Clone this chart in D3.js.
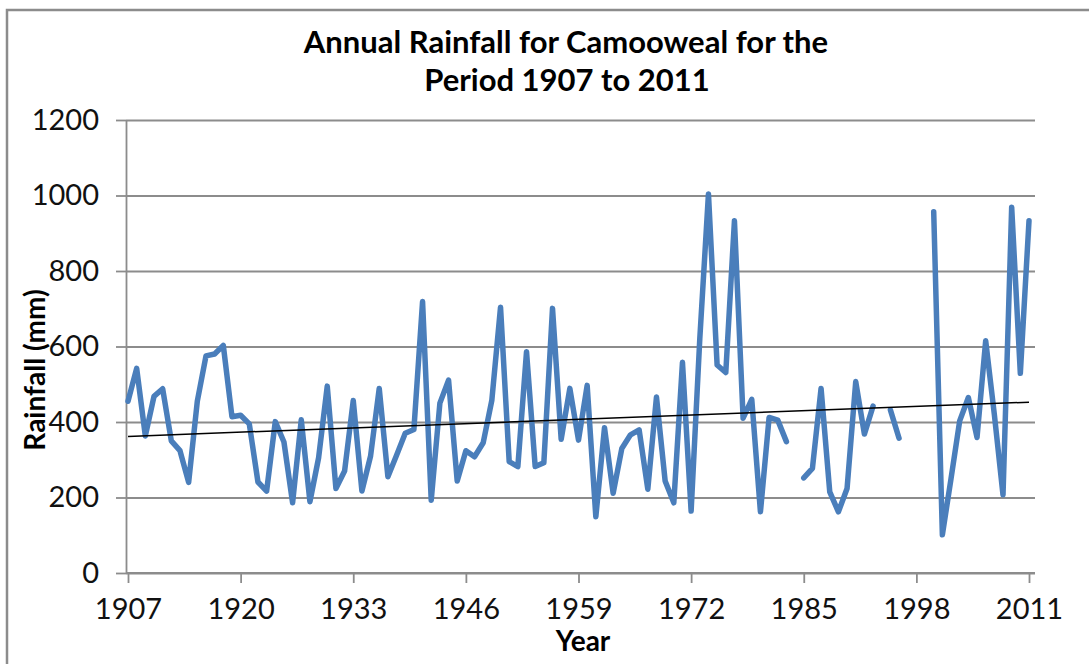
<!DOCTYPE html>
<html lang="en">
<head>
    <meta charset="UTF-8">
    <title>Annual Rainfall for Camooweal</title>
    <script src="https://d3js.org/d3.v7.min.js"></script>
    <style>
        body { margin: 0; background: #fff; }
        text { font-family: Lato, "Open Sans", sans-serif; fill: #000; }
        .axis path, .axis line { stroke: #8c8c8c; stroke-width: 1.8; }
        .axis text { font-size: 29px; fill: #111; }
        .grid line { stroke: #8c8c8c; stroke-width: 1.8; }
        .grid path { display: none; }
    </style>
</head>
<body>
    <svg width="1089" height="664" id="chart"></svg>

    <script>
        // annual totals in mm, null where no record was kept
        const years = d3.range(1907, 2012);
        const rainfall = [
            455, 542, 363, 468, 488, 350, 324, 240, 455, 575,   // 1907-1916
            580, 603, 414, 418, 395, 241, 217, 401, 347, 186,   // 1917-1926
            406, 189, 305, 495, 224, 270, 457, 217, 310, 489,   // 1927-1936
            255, 312, 370, 380, 719, 193, 450, 511, 244, 324,   // 1937-1946
            308, 345, 458, 704, 295, 282, 586, 282, 292, 701,   // 1947-1956
            354, 489, 352, 497, 149, 385, 211, 330, 366, 379,   // 1957-1966
            222, 466, 244, 186, 558, 164, 620, 1004, 551, 531,  // 1967-1976
            933, 410, 460, 162, 412, 405, 348, null, 252, 277,  // 1977-1986
            489, 215, 162, 224, 507, 368, 442, null, 432, 357,  // 1987-1996
            null, null, null, 957, 101, 250, 403, 465, 359, 615, // 1997-2006
            420, 207, 969, 529, 933                              // 2007-2011
        ];
        const xTicks = [1907, 1920, 1933, 1946, 1959, 1972, 1985, 1998, 2011];
        const yTicks = [0, 200, 400, 600, 800, 1000, 1200];

        const data = years.map((yr, i) => ({ year: yr, value: rainfall[i] }));

        const plot = { left: 126, right: 1035, top: 120, bottom: 573 };

        const svg = d3.select("#chart");

        //outer chart frame (right and bottom edges fall outside the view)
        svg.append("rect")
            .attr("x", 7)
            .attr("y", 10)
            .attr("width", 1200)
            .attr("height", 800)
            .attr("fill", "none")
            .attr("stroke", "#8c8c8c")
            .attr("stroke-width", 2.5);

        const x = d3.scaleLinear()
            .domain([1907, 2011])
            .range([128, 1029]);

        const y = d3.scaleLinear()
            .domain([0, 1200])
            .range([plot.bottom, plot.top]);

        //horizontal gridlines
        svg.append("g")
            .attr("class", "grid")
            .attr("transform", `translate(${plot.left},0)`)
            .call(d3.axisLeft(y).tickValues(yTicks).tickSize(-(plot.right - plot.left)).tickFormat(""));

        //y axis
        svg.append("g")
            .attr("class", "axis")
            .attr("transform", `translate(${plot.left},0)`)
            .call(d3.axisLeft(y).tickValues(yTicks).tickSize(10).tickSizeOuter(0).tickPadding(17).tickFormat(d3.format("d")));

        //x axis
        const xAxis = svg.append("g")
            .attr("class", "axis")
            .attr("transform", `translate(0,${plot.bottom})`)
            .call(d3.axisBottom(x).tickValues(xTicks).tickSize(10).tickSizeOuter(0).tickPadding(15).tickFormat(d3.format("d")));
        xAxis.select(".domain").attr("d", `M${plot.left},0H${plot.right}`);

        //rainfall series
        const line = d3.line()
            .defined(d => d.value !== null)
            .x(d => x(d.year))
            .y(d => y(d.value));

        svg.append("path")
            .datum(data)
            .attr("fill", "none")
            .attr("stroke", "#4a7ebb")
            .attr("stroke-width", 5.5)
            .attr("stroke-linejoin", "round")
            .attr("stroke-linecap", "round")
            .attr("d", line);

        //linear trendline (least squares over recorded years)
        const known = data.filter(d => d.value !== null);
        const mx = d3.mean(known, d => d.year);
        const my = d3.mean(known, d => d.value);
        const slope = d3.sum(known, d => (d.year - mx) * (d.value - my)) /
                      d3.sum(known, d => (d.year - mx) * (d.year - mx));
        const trend = [1907, 2011].map(yr => ({ year: yr, value: my + slope * (yr - mx) }));

        svg.append("path")
            .datum(trend)
            .attr("fill", "none")
            .attr("stroke", "#000")
            .attr("stroke-width", 1.5)
            .attr("d", d3.line().x(d => x(d.year)).y(d => y(d.value)));

        //titles
        const title = svg.append("text")
            .attr("text-anchor", "middle")
            .style("font-size", "31px")
            .style("font-weight", "bold");
        title.append("tspan").attr("x", 566).attr("y", 53).text("Annual Rainfall for Camooweal for the");
        title.append("tspan").attr("x", 567).attr("y", 91).text("Period 1907 to 2011");

        svg.append("text")
            .attr("x", 583)
            .attr("y", 651)
            .attr("text-anchor", "middle")
            .style("font-size", "28px")
            .style("font-weight", "bold")
            .text("Year");

        svg.append("text")
            .attr("transform", "rotate(-90)")
            .attr("x", -370)
            .attr("y", 45)
            .attr("text-anchor", "middle")
            .style("font-size", "28px")
            .style("font-weight", "bold")
            .text("Rainfall (mm)");
    </script>
</body>
</html>
